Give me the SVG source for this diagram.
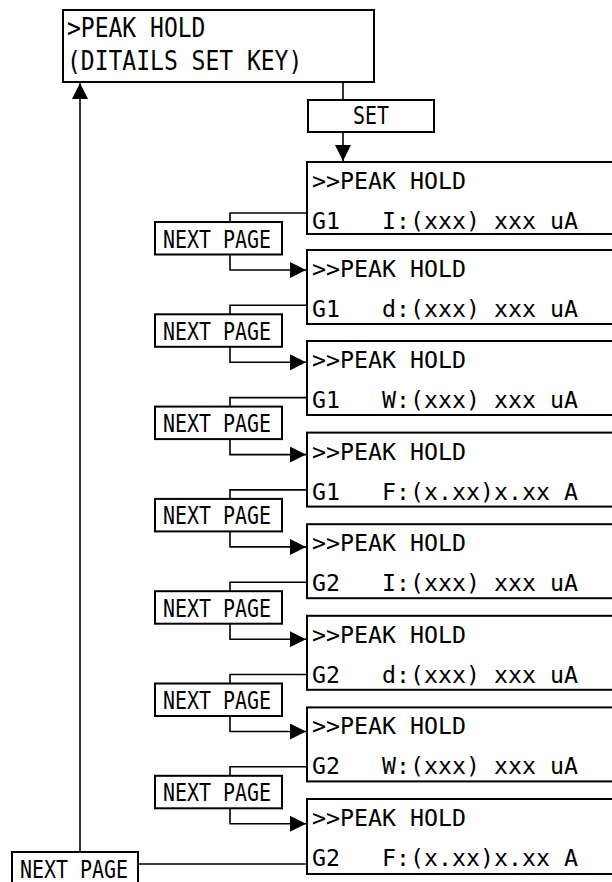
<svg xmlns="http://www.w3.org/2000/svg" width="612" height="882" viewBox="0 0 612 882">
<style>
.box{fill:#fff;stroke:#000;stroke-width:2}
.t{font-family:"DejaVu Sans Mono","Liberation Mono",monospace;font-size:23.25px;fill:#000;white-space:pre}
.tt{font-size:23px}
.np{font-size:19.93px}
.ln{fill:none;stroke:#000;stroke-width:1.6}
.ar{marker-end:url(#ah)}
</style>
<defs>
<marker id="ah" viewBox="0 0 16 16" markerWidth="16" markerHeight="16" refX="16" refY="8" orient="auto" markerUnits="userSpaceOnUse">
<path d="M0,0 L16,8 L0,16 z" fill="#000"/>
</marker>
</defs>
<rect width="612" height="882" fill="#fff"/>

<g id="connectors">
<path class="ln" d="M343,82 V100"/>
<path class="ln ar" d="M343,132 V161"/>
<path class="ln" d="M307,213 H230 V222"/>
<path class="ln ar" d="M230,254.5 V270 H306"/>
<path class="ln" d="M307,305.3 H230 V314.3"/>
<path class="ln ar" d="M230,346.8 V362.3 H306"/>
<path class="ln" d="M307,397.6 H230 V406.6"/>
<path class="ln ar" d="M230,439.1 V454.6 H306"/>
<path class="ln" d="M307,489.9 H230 V498.9"/>
<path class="ln ar" d="M230,531.4 V546.9 H306"/>
<path class="ln" d="M307,582.2 H230 V591.2"/>
<path class="ln ar" d="M230,623.7 V639.2 H306"/>
<path class="ln" d="M307,674.5 H230 V683.5"/>
<path class="ln ar" d="M230,716 V731.5 H306"/>
<path class="ln" d="M307,766.8 H230 V775.8"/>
<path class="ln ar" d="M230,808.3 V823.8 H306"/>
<path class="ln" d="M307,864 H138"/>
<path class="ln ar" d="M80,852 V83"/>
</g>

<g id="top">
<rect class="box" x="63" y="10" width="311" height="72"/>
<text class="t tt" transform="translate(67,37) scale(1,1.19)">&gt;PEAK HOLD</text>
<text class="t tt" transform="translate(67,70) scale(1,1.19)">(DITAILS SET KEY)</text>
</g>

<g id="set">
<rect class="box" x="308" y="100" width="126" height="32"/>
<text class="t np" text-anchor="middle" transform="translate(371,124) scale(1,1.2)">SET</text>
</g>

<g id="s1">
<rect class="box" x="307" y="162" width="320" height="72"/>
<text class="t" x="312" y="189">&gt;&gt;PEAK HOLD</text>
<text class="t" x="312" y="229" xml:space="preserve">G1   I:(xxx) xxx uA</text>
</g>
<g id="s2">
<rect class="box" x="307" y="250" width="320" height="74"/>
<text class="t" x="312" y="277">&gt;&gt;PEAK HOLD</text>
<text class="t" x="312" y="317" xml:space="preserve">G1   d:(xxx) xxx uA</text>
</g>
<g id="s3">
<rect class="box" x="307" y="341" width="320" height="74"/>
<text class="t" x="312" y="368">&gt;&gt;PEAK HOLD</text>
<text class="t" x="312" y="408" xml:space="preserve">G1   W:(xxx) xxx uA</text>
</g>
<g id="s4">
<rect class="box" x="307" y="432.6" width="320" height="74"/>
<text class="t" x="312" y="459.6">&gt;&gt;PEAK HOLD</text>
<text class="t" x="312" y="499.6" xml:space="preserve">G1   F:(x.xx)x.xx A</text>
</g>
<g id="s5">
<rect class="box" x="307" y="524.2" width="320" height="74"/>
<text class="t" x="312" y="551.2">&gt;&gt;PEAK HOLD</text>
<text class="t" x="312" y="591.2" xml:space="preserve">G2   I:(xxx) xxx uA</text>
</g>
<g id="s6">
<rect class="box" x="307" y="615.8" width="320" height="74"/>
<text class="t" x="312" y="642.8">&gt;&gt;PEAK HOLD</text>
<text class="t" x="312" y="682.8" xml:space="preserve">G2   d:(xxx) xxx uA</text>
</g>
<g id="s7">
<rect class="box" x="307" y="707.4" width="320" height="74"/>
<text class="t" x="312" y="734.4">&gt;&gt;PEAK HOLD</text>
<text class="t" x="312" y="774.4" xml:space="preserve">G2   W:(xxx) xxx uA</text>
</g>
<g id="s8">
<rect class="box" x="307" y="799" width="320" height="75"/>
<text class="t" x="312" y="826">&gt;&gt;PEAK HOLD</text>
<text class="t" x="312" y="866" xml:space="preserve">G2   F:(x.xx)x.xx A</text>
</g>

<g id="np1"><rect class="box" x="155" y="222" width="127" height="32.5"/><text class="t np" transform="translate(163,247.5) scale(1,1.2)">NEXT PAGE</text></g>
<g id="np2"><rect class="box" x="155" y="314.3" width="127" height="32.5"/><text class="t np" transform="translate(163,339.8) scale(1,1.2)">NEXT PAGE</text></g>
<g id="np3"><rect class="box" x="155" y="406.6" width="127" height="32.5"/><text class="t np" transform="translate(163,432.1) scale(1,1.2)">NEXT PAGE</text></g>
<g id="np4"><rect class="box" x="155" y="498.9" width="127" height="32.5"/><text class="t np" transform="translate(163,524.4) scale(1,1.2)">NEXT PAGE</text></g>
<g id="np5"><rect class="box" x="155" y="591.2" width="127" height="32.5"/><text class="t np" transform="translate(163,616.7) scale(1,1.2)">NEXT PAGE</text></g>
<g id="np6"><rect class="box" x="155" y="683.5" width="127" height="32.5"/><text class="t np" transform="translate(163,709) scale(1,1.2)">NEXT PAGE</text></g>
<g id="np7"><rect class="box" x="155" y="775.8" width="127" height="32.5"/><text class="t np" transform="translate(163,801.3) scale(1,1.2)">NEXT PAGE</text></g>
<g id="np8"><rect class="box" x="12" y="852" width="126" height="34"/><text class="t np" transform="translate(20,877.5) scale(1,1.2)">NEXT PAGE</text></g>
</svg>
